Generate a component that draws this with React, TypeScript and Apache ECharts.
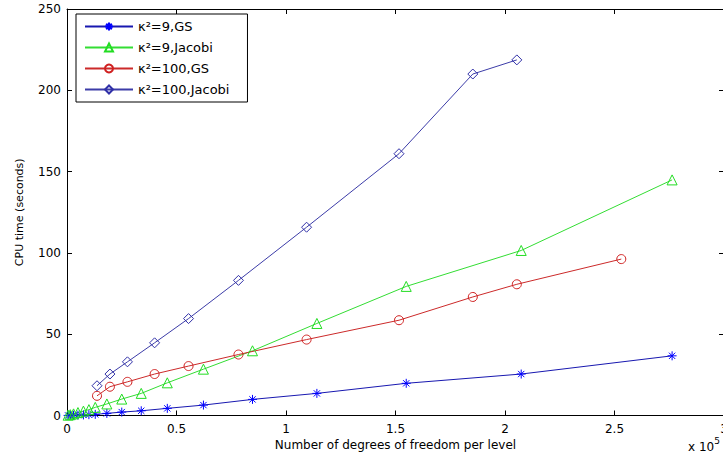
import React, { useEffect, useRef } from "react";
import * as echarts from "echarts";

// x values are in units of 1e5 degrees of freedom
const dofA: number[] = [0.005, 0.015, 0.03, 0.05, 0.075, 0.1, 0.129, 0.182, 0.25, 0.339, 0.458, 0.623, 0.847, 1.141, 1.549, 2.074, 2.763];
const gs9: number[] = [0.05, 0.1, 0.15, 0.25, 0.35, 0.5, 0.7, 1.3, 2.1, 2.9, 4.4, 6.4, 9.9, 13.6, 19.8, 25.5, 36.7];
const jac9: number[] = [0.2, 0.5, 1.0, 1.8, 2.7, 3.6, 5.0, 7.1, 10.1, 13.6, 20.1, 28.5, 39.8, 56.6, 79.4, 101.5, 144.9];

const dofB: number[] = [0.137, 0.196, 0.276, 0.4, 0.555, 0.783, 1.094, 1.516, 1.853, 2.054, 2.531];
const gs100: number[] = [12.1, 17.7, 20.7, 25.5, 30.4, 37.5, 46.7, 58.6, 72.9, 80.7, 96.2];
const jac100: number[] = [18.3, 25.5, 33.0, 44.7, 59.6, 83.1, 115.8, 161.0, 210.0, 218.7];

const xTicks: number[] = [0, 0.5, 1, 1.5, 2, 2.5, 3];
const yTicks: number[] = [0, 50, 100, 150, 200, 250];

const seriesNames: string[] = ["κ²=9,GS", "κ²=9,Jacobi", "κ²=100,GS", "κ²=100,Jacobi"];

const pair = (xs: number[], ys: number[]) => ys.map((y, i) => [xs[i], y]);

const STAR = "path://M5,0L5,10M0,5L10,5M1.5,1.5L8.5,8.5M8.5,1.5L1.5,8.5";

export default function App() {
  const ref = useRef<HTMLDivElement>(null);
  useEffect(() => {
    if (!ref.current) return;
    const chart = echarts.init(ref.current, undefined, { renderer: "svg" });
    const font = "DejaVu Sans";
    const mk = (name: string, data: number[][], color: string, lineColor: string, symbol: string, size: number) => ({
      name,
      type: "line",
      data,
      xAxisIndex: 0,
      yAxisIndex: 0,
      symbol,
      symbolSize: size,
      symbolKeepAspect: true,
      showAllSymbol: true,
      lineStyle: { color: lineColor, width: 1 },
      itemStyle: { color: "none", borderColor: color, borderWidth: 1 },
      emphasis: { disabled: true },
      z: 3,
    });
    chart.setOption({
      animation: false,
      backgroundColor: "#ffffff",
      grid: { left: 67, top: 9, width: 657, height: 406.5, containLabel: false },
      legend: {
        orient: "vertical",
        left: 76,
        top: 14,
        backgroundColor: "#ffffff",
        borderColor: "#000000",
        borderWidth: 1,
        borderRadius: 0,
        padding: [6, 18, 6, 8],
        itemWidth: 48,
        itemHeight: 10,
        itemGap: 8,
        textStyle: { fontFamily: font, fontSize: 13, color: "#000" },
        data: seriesNames,
      },
      xAxis: [
        {
          type: "value",
          position: "bottom",
          min: xTicks[0],
          max: xTicks[xTicks.length - 1],
          interval: 0.5,
          axisLine: { show: true, onZero: false, lineStyle: { color: "#000", width: 1 } },
          axisTick: { show: true, inside: true, length: 5, lineStyle: { color: "#000" } },
          axisLabel: { color: "#000", fontFamily: font, fontSize: 12, margin: 7 },
          splitLine: { show: false },
          name: "Number of degrees of freedom per level",
          nameLocation: "middle",
          nameGap: 20,
          nameTextStyle: { color: "#000", fontFamily: font, fontSize: 12 },
        },
        {
          type: "value",
          position: "top",
          min: xTicks[0],
          max: xTicks[xTicks.length - 1],
          interval: 0.5,
          axisLine: { show: true, onZero: false, lineStyle: { color: "#000", width: 1 } },
          axisTick: { show: true, inside: true, length: 5, lineStyle: { color: "#000" } },
          axisLabel: { show: false },
          splitLine: { show: false },
        },
      ],
      yAxis: [
        {
          type: "value",
          position: "left",
          min: yTicks[0],
          max: yTicks[yTicks.length - 1],
          interval: 50,
          axisLine: { show: true, onZero: false, lineStyle: { color: "#000", width: 1 } },
          axisTick: { show: true, inside: true, length: 5, lineStyle: { color: "#000" } },
          axisLabel: { color: "#000", fontFamily: font, fontSize: 12, margin: 6 },
          splitLine: { show: false },
          name: "CPU time (seconds)",
          nameLocation: "middle",
          nameGap: 42,
          nameRotate: 90,
          nameTextStyle: { color: "#000", fontFamily: font, fontSize: 11 },
        },
        {
          type: "value",
          position: "right",
          min: yTicks[0],
          max: yTicks[yTicks.length - 1],
          interval: 50,
          axisLine: { show: true, onZero: false, lineStyle: { color: "#000", width: 1 } },
          axisTick: { show: true, inside: true, length: 5, lineStyle: { color: "#000" } },
          axisLabel: { show: false },
          splitLine: { show: false },
        },
      ],
      graphic: [
        {
          type: "text",
          left: 688,
          top: 436,
          style: {
            text: "{a|x 10}{b|5}",
            rich: {
              a: { fontFamily: font, fontSize: 12, fill: "#000", verticalAlign: "bottom" },
              b: { fontFamily: font, fontSize: 9, fill: "#000", verticalAlign: "top", padding: [0, 0, 8, 0] },
            },
          },
        },
      ],
      series: [
        mk(seriesNames[0], pair(dofA, gs9), "#0000ff", "#1818b0", STAR, 9),
        mk(seriesNames[1], pair(dofA, jac9), "#22dd22", "#33dd33", "triangle", 10),
        mk(seriesNames[2], pair(dofB, gs100), "#d02020", "#cc2a2a", "circle", 9),
        mk(seriesNames[3], pair(dofB, jac100), "#3030a8", "#3c3ca8", "diamond", 10),
      ],
    });
    return () => chart.dispose();
  }, []);
  return (
    <div style={{ position: "fixed", left: 0, top: 0, width: 723, height: 458, overflow: "hidden", background: "#fff" }}>
      <div ref={ref} style={{ width: 760, height: 458 }} />
    </div>
  );
}
